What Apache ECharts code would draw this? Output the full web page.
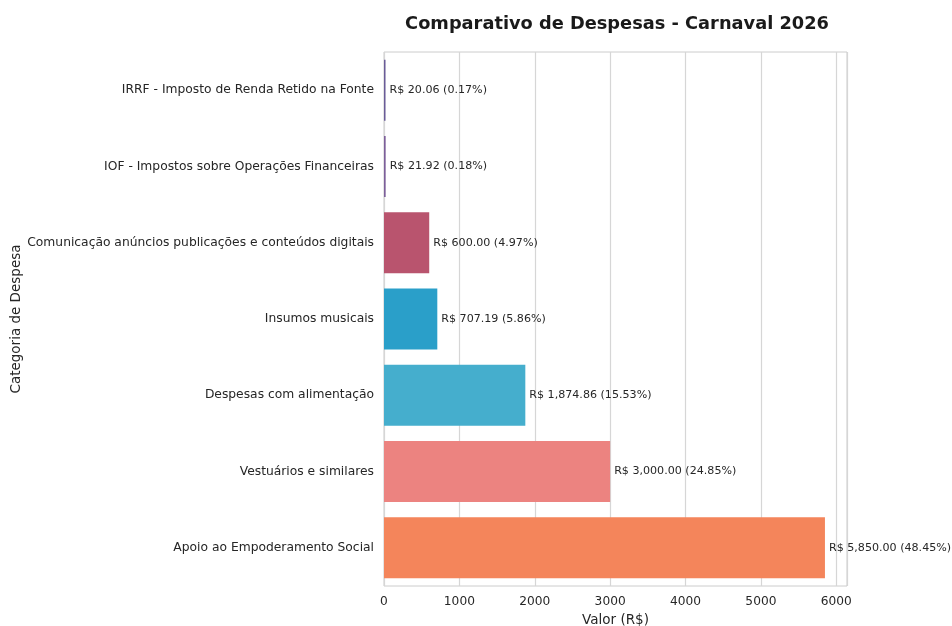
<!DOCTYPE html>
<html>
<head>
<meta charset="utf-8">
<script src="https://cdn.jsdelivr.net/npm/echarts@6/dist/echarts.min.js"></script>
<style>html,body{margin:0;padding:0;background:#fff}#c{width:952px;height:626px}</style>
</head>
<body>
<div id="c"></div>
<script>
const categories = [
  'IRRF - Imposto de Renda Retido na Fonte',
  'IOF - Impostos sobre Operações Financeiras',
  'Comunicação anúncios publicações e conteúdos digitais',
  'Insumos musicais',
  'Despesas com alimentação',
  'Vestuários e similares',
  'Apoio ao Empoderamento Social'
];
const values = [20.06, 21.92, 600.00, 707.19, 1874.86, 3000.00, 5850.00];
const barColors = ['#6a5c98', '#7c5f9a', '#b9546e', '#2a9fc9', '#45aecd', '#ec8380', '#f4855b'];
const xTicks = [0, 1000, 2000, 3000, 4000, 5000, 6000];

const total = values.reduce((a, b) => a + b, 0);
function fmt(v) {
  return v.toFixed(2).replace(/\B(?=(\d{3})+(?!\d))/g, ',');
}
const font = 'DejaVu Sans';
const chart = echarts.init(document.getElementById('c'), null, {renderer: 'canvas'});
chart.setOption({
  animation: false,
  backgroundColor: '#ffffff',
  title: {
    text: 'Comparativo de Despesas - Carnaval 2026',
    left: 612, top: 10, textAlign: 'center',
    textStyle: {fontFamily: font, fontSize: 17.8, fontWeight: 'bold', color: '#1a1a1a'}
  },
  grid: {left: 384, right: 105, top: 52, bottom: 40, show: true, borderColor: '#cccccc', borderWidth: 1,
    containLabel: false, outerBoundsMode: 'none'},
  xAxis: {
    type: 'value', min: 0, max: 6142.5, interval: 1000,
    name: 'Valor (R$)', nameLocation: 'middle', nameGap: 27,
    nameTextStyle: {fontFamily: font, fontSize: 13.5, color: '#262626'},
    axisLine: {show: false}, axisTick: {show: false},
    axisLabel: {fontFamily: font, fontSize: 12.2, color: '#262626', margin: 10,
      formatter: v => xTicks.includes(v) ? String(v) : ''},
    splitLine: {show: true, lineStyle: {color: '#d6d6d6', width: 1.2}}
  },
  yAxis: {
    type: 'category', data: categories, inverse: true,
    name: 'Categoria de Despesa', nameLocation: 'middle', nameRotate: 90, nameGap: 360,
    nameTextStyle: {fontFamily: font, fontSize: 13.5, color: '#262626'},
    axisLine: {show: false}, axisTick: {show: false},
    axisLabel: {fontFamily: font, fontSize: 12.3, color: '#262626', margin: 10},
    splitLine: {show: false}
  },
  series: [{
    type: 'bar',
    barCategoryGap: '20%',
    data: values.map((v, i) => ({value: v, itemStyle: {color: barColors[i]}})),
    label: {
      show: true, position: 'right', distance: 4,
      fontFamily: font, fontSize: 11.1, color: '#262626',
      formatter: p => 'R$ ' + fmt(p.value) + ' (' + (p.value / total * 100).toFixed(2) + '%)'
    }
  }]
});
</script>
</body>
</html>
